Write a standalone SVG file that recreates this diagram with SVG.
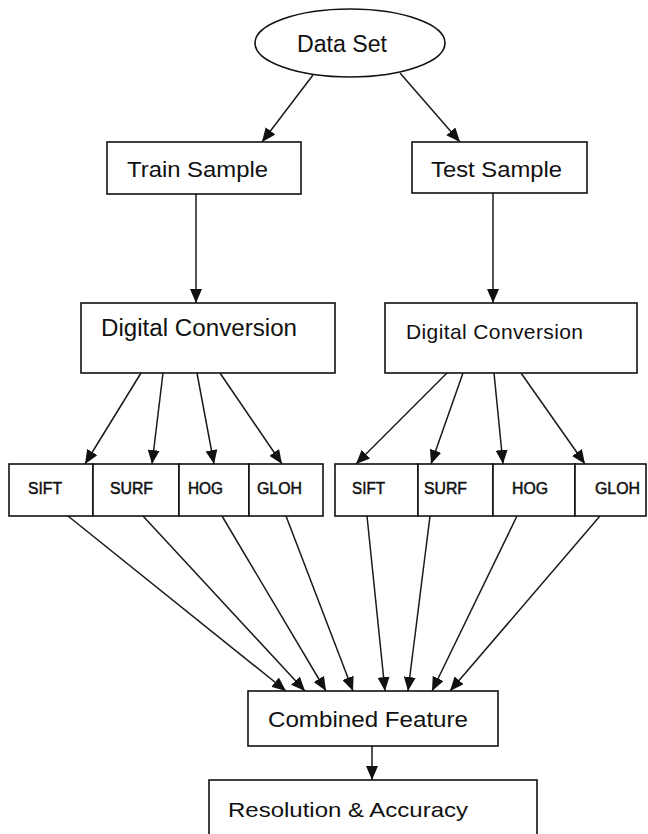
<svg xmlns="http://www.w3.org/2000/svg" width="648" height="834" viewBox="0 0 648 834">
<style>
.box{fill:#fff;stroke:#111;stroke-width:1.6}
.lbl{font-family:"Liberation Sans",Arial,sans-serif;fill:#111}
.ft{font-family:"Liberation Sans",Arial,sans-serif;font-size:16px;fill:#111;stroke:#111;stroke-width:0.5}
.con line{stroke:#1a1a1a;stroke-width:1.5;marker-end:url(#ah)}
</style>
<defs>
<marker id="ah" markerUnits="userSpaceOnUse" markerWidth="14" markerHeight="12" refX="14" refY="6" orient="auto">
<path d="M0,0 L14,6 L0,12 z" fill="#111"/>
</marker>
</defs>
<rect width="648" height="834" fill="#fff"/>
<g id="connectors" class="con">
<line x1="313" y1="75" x2="262" y2="142"/>
<line x1="400" y1="73" x2="460" y2="142"/>
<line x1="196" y1="194" x2="196" y2="303"/>
<line x1="493" y1="193" x2="493" y2="303"/>
<line x1="141" y1="373" x2="85" y2="464"/>
<line x1="163" y1="373" x2="152" y2="464"/>
<line x1="197" y1="373" x2="214" y2="464"/>
<line x1="220" y1="373" x2="282" y2="464"/>
<line x1="447" y1="373" x2="356" y2="464"/>
<line x1="463" y1="373" x2="431" y2="464"/>
<line x1="494" y1="373" x2="503" y2="464"/>
<line x1="521" y1="373" x2="585" y2="464"/>
<line x1="68" y1="516" x2="286" y2="691"/>
<line x1="143" y1="516" x2="305" y2="691"/>
<line x1="222" y1="516" x2="326" y2="691"/>
<line x1="286" y1="516" x2="353" y2="691"/>
<line x1="367" y1="516" x2="385" y2="691"/>
<line x1="430" y1="516" x2="408" y2="691"/>
<line x1="517" y1="516" x2="432" y2="691"/>
<line x1="600" y1="516" x2="450" y2="691"/>
<line x1="372" y1="746" x2="372" y2="780"/>
</g>
<g id="dataset">
<ellipse class="box" cx="350" cy="43" rx="95" ry="34"/>
<text class="lbl" x="297" y="52" font-size="23" textLength="90" lengthAdjust="spacingAndGlyphs">Data Set</text>
</g>
<g id="train">
<rect class="box" x="107" y="142" width="194" height="52"/>
<text class="lbl" x="127" y="177" font-size="22" textLength="141" lengthAdjust="spacingAndGlyphs">Train Sample</text>
</g>
<g id="test">
<rect class="box" x="412" y="142" width="175" height="51"/>
<text class="lbl" x="431" y="177" font-size="22" textLength="131" lengthAdjust="spacingAndGlyphs">Test Sample</text>
</g>
<g id="dc1">
<rect class="box" x="81" y="303" width="254" height="70"/>
<text class="lbl" x="101" y="336" font-size="23" textLength="196" lengthAdjust="spacingAndGlyphs">Digital Conversion</text>
</g>
<g id="dc2">
<rect class="box" x="385" y="303" width="252" height="70"/>
<text class="lbl" x="406" y="339" font-size="21" textLength="177" lengthAdjust="spacing">Digital Conversion</text>
</g>
<g id="sift1"><rect class="box" x="9" y="464" width="84" height="52"/><text class="ft" x="28" y="494" textLength="34" lengthAdjust="spacingAndGlyphs">SIFT</text></g>
<g id="surf1"><rect class="box" x="93" y="464" width="86" height="52"/><text class="ft" x="110" y="494" textLength="43" lengthAdjust="spacingAndGlyphs">SURF</text></g>
<g id="hog1"><rect class="box" x="179" y="464" width="70" height="52"/><text class="ft" x="188" y="494" textLength="35" lengthAdjust="spacingAndGlyphs">HOG</text></g>
<g id="gloh1"><rect class="box" x="249" y="464" width="74" height="52"/><text class="ft" x="257" y="494" textLength="45" lengthAdjust="spacingAndGlyphs">GLOH</text></g>
<g id="sift2"><rect class="box" x="335" y="464" width="83" height="52"/><text class="ft" x="352" y="494" textLength="33" lengthAdjust="spacingAndGlyphs">SIFT</text></g>
<g id="surf2"><rect class="box" x="418" y="464" width="75" height="52"/><text class="ft" x="424" y="494" textLength="43" lengthAdjust="spacingAndGlyphs">SURF</text></g>
<g id="hog2"><rect class="box" x="493" y="464" width="82" height="52"/><text class="ft" x="512" y="494" textLength="36" lengthAdjust="spacingAndGlyphs">HOG</text></g>
<g id="gloh2"><rect class="box" x="575" y="464" width="71" height="52"/><text class="ft" x="595" y="494" textLength="45" lengthAdjust="spacingAndGlyphs">GLOH</text></g>
<g id="combined">
<rect class="box" x="248" y="691" width="250" height="55"/>
<text class="lbl" x="268" y="727" font-size="22" textLength="200" lengthAdjust="spacingAndGlyphs">Combined Feature</text>
</g>
<g id="resolution">
<rect class="box" x="209" y="780" width="328" height="70"/>
<text class="lbl" x="228" y="817" font-size="21" textLength="240" lengthAdjust="spacingAndGlyphs">Resolution &amp; Accuracy</text>
</g>
</svg>
